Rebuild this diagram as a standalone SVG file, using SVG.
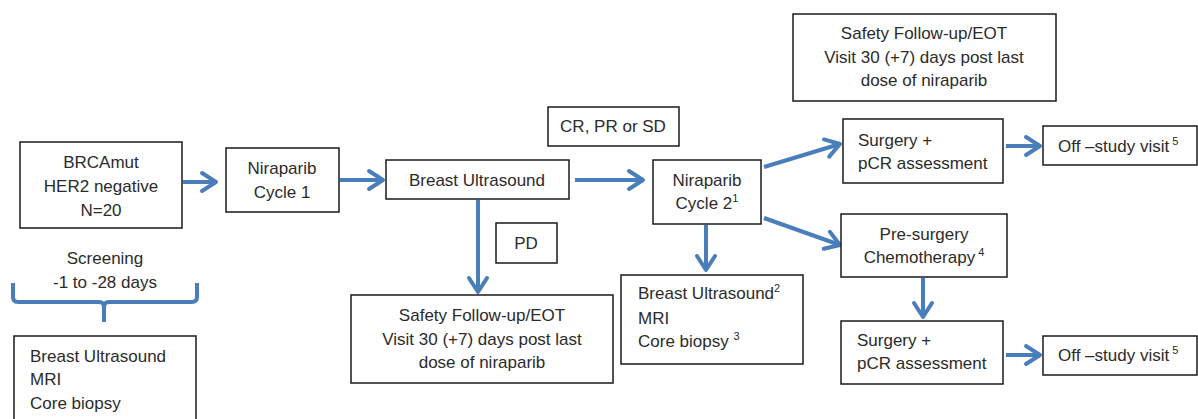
<svg xmlns="http://www.w3.org/2000/svg" width="1198" height="419" viewBox="0 0 1198 419">
<style>
.box{fill:#fff;stroke:#1a1a1a;stroke-width:1.5}
text{font-family:"Liberation Sans",Arial,sans-serif;font-size:17px;fill:#2b2b2b}
.c{text-anchor:middle}
.con{stroke:#4a7ebb;stroke-width:4;fill:none}
.sup{font-size:11px}
</style>
<defs>
<marker id="ah" markerUnits="userSpaceOnUse" markerWidth="24" markerHeight="24" viewBox="-20 -12 24 24" refX="0" refY="0" orient="auto">
<path d="M-14,-9 L0,0 L-14,9" fill="none" stroke="#4a7ebb" stroke-width="4" stroke-linejoin="round" stroke-linecap="round"/>
</marker>
</defs>
<rect width="1198" height="419" fill="#fff"/>

<g id="connectors">
<line class="con" x1="183" y1="182" x2="216" y2="182" marker-end="url(#ah)"/>
<line class="con" x1="340" y1="180" x2="383" y2="180" marker-end="url(#ah)"/>
<line class="con" x1="575" y1="180" x2="643" y2="180" marker-end="url(#ah)"/>
<line class="con" x1="478" y1="200" x2="478" y2="292" marker-end="url(#ah)"/>
<line class="con" x1="706" y1="225" x2="706" y2="270" marker-end="url(#ah)"/>
<line class="con" x1="764" y1="167" x2="840" y2="144" marker-end="url(#ah)"/>
<line class="con" x1="764" y1="218" x2="840" y2="245" marker-end="url(#ah)"/>
<line class="con" x1="923" y1="278" x2="923" y2="317" marker-end="url(#ah)"/>
<line class="con" x1="1006" y1="146" x2="1040" y2="146" marker-end="url(#ah)"/>
<line class="con" x1="1006" y1="355" x2="1040" y2="355" marker-end="url(#ah)"/>
<path class="con" stroke-width="3" d="M13,283 V297 Q13,302 18,302 H99 Q104,302 104,307 V322 M104,307 Q104,302 109,302 H192 Q197,302 197,297 V283"/>
</g>

<g id="n-brca">
<rect class="box" x="20" y="142" width="162" height="86"/>
<text class="c" x="101" y="168">BRCAmut</text>
<text class="c" x="101" y="192">HER2 negative</text>
<text class="c" x="101" y="216">N=20</text>
</g>

<g id="n-screening">
<text class="c" x="105" y="264">Screening</text>
<text class="c" x="105" y="288">-1 to -28 days</text>
</g>

<g id="n-baseline">
<rect class="box" x="14" y="336" width="182" height="90"/>
<text x="30" y="362">Breast Ultrasound</text>
<text x="30" y="385">MRI</text>
<text x="30" y="409">Core biopsy</text>
</g>

<g id="n-nir1">
<rect class="box" x="226" y="148" width="113" height="64"/>
<text class="c" x="282" y="174">Niraparib</text>
<text class="c" x="282" y="198">Cycle 1</text>
</g>

<g id="n-bus">
<rect class="box" x="386" y="160" width="183" height="39"/>
<text class="c" x="477" y="186">Breast Ultrasound</text>
</g>

<g id="n-crprsd">
<rect class="box" x="548" y="107" width="131" height="39"/>
<text class="c" x="613" y="132">CR, PR or SD</text>
</g>

<g id="n-pd">
<rect class="box" x="496" y="223" width="61" height="40"/>
<text class="c" x="526" y="249">PD</text>
</g>

<g id="n-safety1">
<rect class="box" x="351" y="295" width="262" height="88"/>
<text class="c" x="482" y="321">Safety Follow-up/EOT</text>
<text class="c" x="482" y="345">Visit 30 (+7)  days post last</text>
<text class="c" x="482" y="368">dose of niraparib</text>
</g>

<g id="n-nir2">
<rect class="box" x="653" y="160" width="108" height="64"/>
<text class="c" x="707" y="186">Niraparib</text>
<text class="c" x="707" y="209">Cycle 2<tspan class="sup" dy="-7">1</tspan></text>
</g>

<g id="n-bus2">
<rect class="box" x="621" y="275" width="182" height="89"/>
<text x="638" y="299">Breast Ultrasound<tspan class="sup" dy="-7">2</tspan></text>
<text x="638" y="324">MRI</text>
<text x="638" y="347">Core biopsy <tspan class="sup" dy="-7">3</tspan></text>
</g>

<g id="n-safety2">
<rect class="box" x="793" y="14" width="263" height="87"/>
<text class="c" x="924" y="39">Safety Follow-up/EOT</text>
<text class="c" x="924" y="63">Visit 30 (+7)  days post last</text>
<text class="c" x="924" y="86">dose of niraparib</text>
</g>

<g id="n-surgery1">
<rect class="box" x="843" y="119" width="160" height="64"/>
<text x="858" y="146">Surgery +</text>
<text x="858" y="169">pCR assessment</text>
</g>

<g id="n-off1">
<rect class="box" x="1043" y="126" width="154" height="39"/>
<text x="1058" y="152">Off –study visit<tspan class="sup" dy="-7"> 5</tspan></text>
</g>

<g id="n-presurgery">
<rect class="box" x="841" y="214" width="166" height="63"/>
<text class="c" x="924" y="240">Pre-surgery</text>
<text class="c" x="924" y="263">Chemotherapy<tspan class="sup" dy="-7"> 4</tspan></text>
</g>

<g id="n-surgery2">
<rect class="box" x="841" y="321" width="162" height="63"/>
<text x="857" y="346">Surgery +</text>
<text x="857" y="369">pCR assessment</text>
</g>

<g id="n-off2">
<rect class="box" x="1043" y="336" width="154" height="39"/>
<text x="1058" y="361">Off –study visit<tspan class="sup" dy="-7"> 5</tspan></text>
</g>
</svg>
